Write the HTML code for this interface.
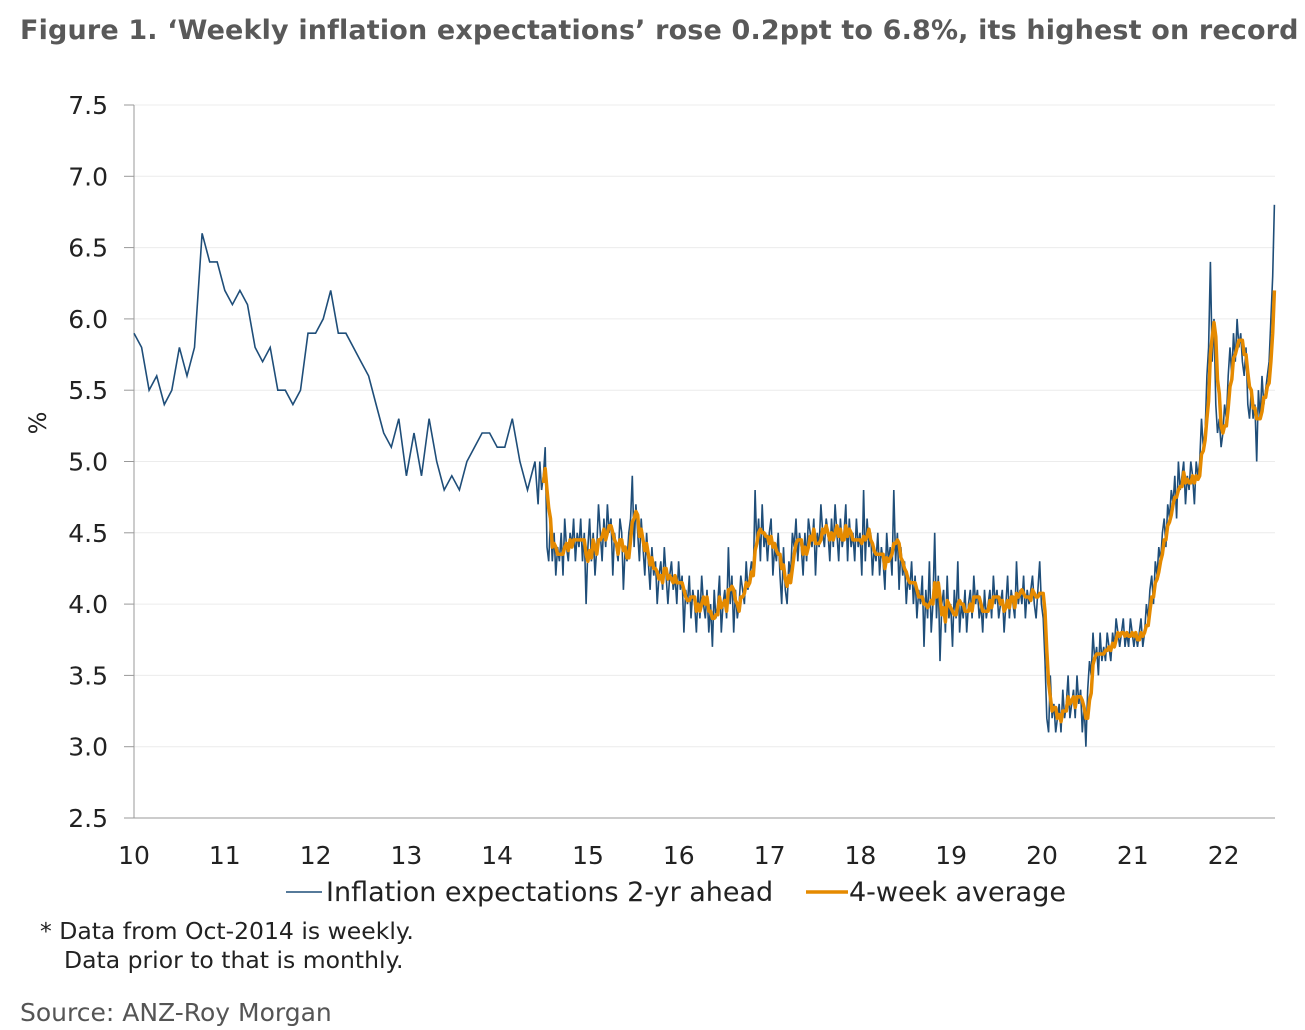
<!DOCTYPE html>
<html><head><meta charset="utf-8"><style>
body{margin:0;background:#fff;width:1305px;height:1030px;overflow:hidden;font-family:"DejaVu Sans","Liberation Sans",sans-serif;color:#222}
#title{position:absolute;left:20px;top:15px;font-size:27px;font-weight:bold;color:#595959;white-space:nowrap;font-family:"DejaVu Sans",sans-serif;letter-spacing:0.15px}
.note{position:absolute;font-size:23.5px;color:#222;white-space:nowrap}
</style></head><body>
<div id="title">Figure 1. ‘Weekly inflation expectations’ rose 0.2ppt to 6.8%, its highest on record</div>
<svg id="chart" width="1305" height="1030" style="position:absolute;left:0;top:0"></svg>
<div class="note" style="left:40px;top:917px">* Data from  Oct-2014 is weekly.</div>
<div class="note" style="left:64px;top:946px">Data prior  to that is monthly.</div>
<div class="note" style="left:20px;top:998px;color:#555;font-size:25px">Source: ANZ-Roy Morgan</div>
<script>
const yTicks=[2.5,3.0,3.5,4.0,4.5,5.0,5.5,6.0,6.5,7.0,7.5];
const xTicks=[10,11,12,13,14,15,16,17,18,19,20,21,22];
const monthly=[5.9,5.8,5.5,5.6,5.4,5.5,5.8,5.6,5.8,6.6,6.4,6.4,
6.2,6.1,6.2,6.1,5.8,5.7,5.8,5.5,5.5,5.4,5.5,5.9,
5.9,6.0,6.2,5.9,5.9,5.8,5.7,5.6,5.4,5.2,5.1,5.3,
4.9,5.2,4.9,5.3,5.0,4.8,4.9,4.8,5.0,5.1,5.2,5.2,
5.1,5.1,5.3,5.0,4.8,5.0];
const weekly=[4.7,5.0,4.8,4.9,5.1,4.4,4.3,4.6,4.3,4.5,4.2,4.4,4.3,4.5,4.2,4.6,4.4,4.3,4.5,4.4,4.6,4.3,4.5,4.4,4.6,
4.3,4.5,4.0,4.4,4.6,4.3,4.5,4.2,4.4,4.7,4.5,4.3,4.6,4.4,4.7,4.5,4.6,4.2,4.5,4.4,4.3,4.6,4.5,4.1,4.4,4.3,4.5,4.6,4.9,4.4,4.7,4.5,4.3,4.6,4.4,4.2,4.5,4.3,4.1,4.4,4.2,4.3,4.0,4.2,4.3,4.1,4.4,4.2,4.0,4.2,4.3,4.1,
4.2,4.0,4.3,4.1,4.2,3.8,4.1,4.0,4.2,3.9,4.1,4.0,3.8,4.1,3.9,4.2,4.0,3.9,4.1,3.8,4.0,3.7,4.1,3.9,4.0,4.2,3.8,4.0,4.1,3.9,4.4,4.0,4.2,3.8,4.1,3.9,4.0,4.2,4.1,4.0,4.3,4.1,4.2,4.3,4.2,4.8,4.4,4.6,4.3,4.7,4.4,4.5,
4.3,4.5,4.6,4.2,4.4,4.3,4.5,4.2,4.0,4.4,4.1,4.0,4.3,4.2,4.5,4.4,4.6,4.3,4.5,4.4,4.2,4.5,4.3,4.6,4.5,4.4,4.6,4.2,4.5,4.4,4.7,4.5,4.4,4.6,4.5,4.3,4.6,4.4,4.7,4.5,4.3,4.6,4.4,4.5,4.7,4.3,4.6,4.4,4.5,4.3,4.6,4.4,
4.5,4.2,4.8,4.3,4.6,4.4,4.5,4.2,4.4,4.3,4.5,4.2,4.4,4.3,4.1,4.5,4.3,4.4,4.2,4.8,4.3,4.5,4.1,4.4,4.2,4.3,4.0,4.2,4.1,4.3,4.0,4.2,3.9,4.1,4.0,4.2,3.7,4.1,3.9,4.3,3.8,4.0,4.5,3.9,4.2,3.6,4.0,4.1,3.8,4.2,3.9,4.0,
3.7,4.1,3.9,4.3,3.8,4.0,3.9,4.1,3.8,4.0,4.1,3.9,4.2,4.0,4.1,3.9,4.0,3.8,4.1,3.9,4.0,4.1,3.9,4.2,4.0,4.1,3.9,4.0,4.1,3.8,4.0,4.2,3.9,4.1,4.0,3.9,4.3,4.0,4.1,4.0,4.2,3.9,4.1,4.0,4.1,4.2,4.0,3.9,4.1,4.3,4.0,3.9,
3.6,3.2,3.1,3.5,3.2,3.3,3.1,3.2,3.3,3.1,3.4,3.2,3.3,3.5,3.2,3.3,3.4,3.2,3.5,3.3,3.4,3.1,3.3,3.0,3.4,3.6,3.5,3.8,3.6,3.7,3.5,3.8,3.6,3.7,3.6,3.8,3.7,3.6,3.8,3.7,3.9,3.8,3.7,3.8,3.9,3.7,3.8,3.7,3.9,3.8,3.7,3.8,
3.7,3.8,3.9,3.7,3.8,4.0,3.9,4.1,4.2,4.0,4.3,4.2,4.4,4.3,4.5,4.6,4.4,4.7,4.6,4.8,4.7,4.9,4.6,5.0,4.8,4.9,5.0,4.7,4.9,4.8,5.0,4.9,4.7,5.0,4.9,5.0,5.3,5.1,5.2,5.6,5.8,6.4,5.7,6.0,5.4,5.2,5.3,5.1,5.2,5.4,5.3,5.6,
5.8,5.6,5.9,5.7,6.0,5.8,5.9,5.7,5.6,5.8,5.4,5.3,5.5,5.3,5.4,5.0,5.5,5.3,5.6,5.4,5.5,5.6,5.7,6.0,6.3,6.8];
const NS="http://www.w3.org/2000/svg";
const svg=document.getElementById('chart');
const X0=134,X1=1275,PX=90.8,Y0=818,PY=142.6;
const W_START=14.45,W_END=22.56;
function xs(t){return X0+(t-10)*PX;}
function ys(v){return Y0-(v-2.5)*PY;}
function mk(tag,at,par){const e=document.createElementNS(NS,tag);for(const k in at)e.setAttribute(k,at[k]);(par||svg).appendChild(e);return e;}
yTicks.forEach(v=>{
  if(v>2.5){const g=mk('line',{x1:X0,x2:X1,y1:ys(v),y2:ys(v),stroke:'#ececec','stroke-width':1});
  
  }
  const tk=mk('line',{x1:X0-10,x2:X0,y1:ys(v),y2:ys(v),stroke:'#999'});
  
  
  const t=mk('text',{x:108,y:ys(v)+9,'text-anchor':'end','font-size':25,fill:'#222','font-family':'DejaVu Sans, sans-serif'});
  t.textContent=v.toFixed(1);
  
  
});
xTicks.forEach(v=>{
  const t=mk('text',{x:xs(v),y:864,'text-anchor':'middle','font-size':25,fill:'#222','font-family':'DejaVu Sans, sans-serif'});
  t.textContent=v;
  
  
});
const ax=mk('line',{x1:X0,x2:X0,y1:ys(7.5),y2:Y0,stroke:'#999'});


const bx=mk('line',{x1:X0,x2:X1,y1:Y0,y2:Y0,stroke:'#999'});


const yl=mk('text',{x:0,y:0,transform:'translate(46,423) rotate(-90)','text-anchor':'middle','font-size':24,fill:'#222'});
yl.textContent='%';


const step=(W_END-W_START)/(weekly.length-1);
const pts=[];
monthly.forEach((v,i)=>pts.push([10+i/12,v]));
weekly.forEach((v,i)=>pts.push([W_START+i*step,v]));
const d=pts.map((p,i)=>(i?'L':'M')+xs(p[0]).toFixed(1)+','+ys(p[1]).toFixed(1)).join('');
const l1=mk('path',{d:d,fill:'none',stroke:'#1f4e79','stroke-width':1.6});


const avg=[];
for(let i=3;i<weekly.length;i++){avg.push([W_START+i*step,(weekly[i]+weekly[i-1]+weekly[i-2]+weekly[i-3])/4]);}
const d2=avg.map((p,i)=>(i?'L':'M')+xs(p[0]).toFixed(1)+','+ys(p[1]).toFixed(1)).join('');
const l2=mk('path',{d:d2,fill:'none',stroke:'#e58a00','stroke-width':3.5,'stroke-linejoin':'round'});


const lg=mk('g',{});


const a=mk('line',{x1:286,x2:322,y1:892,y2:892,stroke:'#1f4e79','stroke-width':1.6},lg);


const at=mk('text',{x:326,y:901,'font-size':27,fill:'#222'},lg);
at.textContent='Inflation expectations 2-yr ahead';


const b=mk('line',{x1:806,x2:848,y1:892,y2:892,stroke:'#e58a00','stroke-width':3.5},lg);


const bt=mk('text',{x:849,y:901,'font-size':27,fill:'#222'},lg);
bt.textContent='4-week average';


</script>
</body></html>
